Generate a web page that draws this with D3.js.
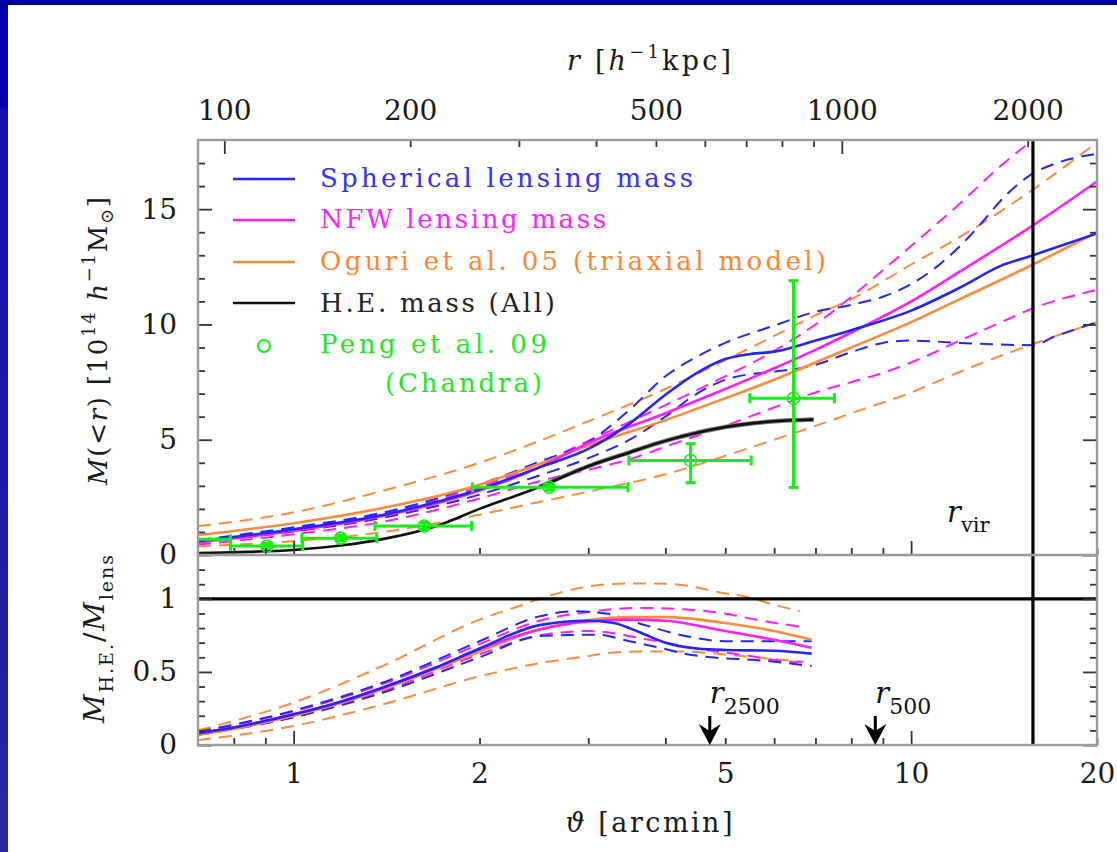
<!DOCTYPE html>
<html><head><meta charset="utf-8">
<script src="https://cdn.jsdelivr.net/npm/d3@7"></script>
<style>
body{margin:0;background:#fff;}
svg{display:block;font-family:"DejaVu Serif","Liberation Serif",serif;}
</style>
</head><body>
<script>
// ---------------- data ----------------
const thetaDomain = [0.7, 20];          // arcmin
const kpcPerArcmin = 129.5;             // h^-1 kpc per arcmin
const rVirTheta = 15.75, r2500Theta = 4.72, r500Theta = 8.75;

const thetaLabelTicks = [1, 2, 5, 10, 20];
const thetaMajorTicks = [1, 10];
const thetaMinorTicks = [0.8, 0.9, 2, 3, 4, 5, 6, 7, 8, 9, 20];
const rLabelTicks = [100, 200, 500, 1000, 2000];
const rMajorTicks = [100, 1000];
const rMinorTicks = [200, 300, 400, 500, 600, 700, 800, 900, 2000];
const massLabelTicks = [0, 5, 10, 15];
const massMinorTicks = [1,2,3,4,6,7,8,9,11,12,13,14,16,17];
const ratioLabelTicks = [0, 0.5, 1];
const ratioMinorTicks = [0.1,0.2,0.3,0.4,0.6,0.7,0.8,0.9,1.1,1.2];

// upper panel: M(<r) [1e14 h^-1 Msun] vs theta [arcmin]
const sphLensM  = [[0.7,0.6],[1,1.12],[1.4,1.75],[2,2.85],[2.5,3.8],[3,4.6],[3.5,5.7],[4,6.95],[4.5,7.9],[5,8.5],[5.5,8.72],[6,8.82],[7,9.3],[8,9.75],[10,10.6],[12,11.6],[14,12.55],[15.75,13.0],[20,13.95]];
const sphLensHi = [[0.7,0.65],[1,1.2],[1.4,1.85],[2,3.05],[2.5,4.05],[3,4.9],[3.5,6.3],[4,7.75],[4.5,8.6],[5,9.2],[6,9.95],[7,10.55],[8,10.85],[9,11.2],[10,11.75],[11,12.5],[12,13.4],[13,14.4],[14,15.4],[15.75,16.55],[17,16.95],[20,17.4]];
const sphLensLo = [[0.7,0.55],[1,1.02],[1.4,1.62],[2,2.62],[2.5,3.45],[3,4.2],[3.5,5.0],[4,6.0],[4.5,7.0],[5,7.6],[5.5,7.85],[6,7.95],[7,8.25],[8,8.8],[9,9.2],[10,9.3],[12,9.2],[15.75,9.1],[17,9.45],[20,10.1]];
const nfwM  = [[0.7,0.55],[1,1.05],[1.4,1.7],[2,2.8],[2.5,3.8],[3,4.85],[4,6.15],[5,7.2],[6,8.1],[7,8.9],[8,9.65],[10,11.0],[12,12.3],[15.75,14.3],[20,16.2]];
const nfwHi = [[0.7,0.62],[1,1.12],[1.4,1.8],[2,2.95],[2.5,3.95],[3,4.95],[4,6.5],[5,7.75],[6,8.85],[7,10.0],[8,11.2],[9,12.35],[10,13.4],[12,15.25],[14,16.9],[16.3,18.3]];
const nfwLo = [[0.7,0.45],[1,0.9],[1.4,1.45],[2,2.45],[2.5,3.2],[3,3.7],[3.5,4.15],[4,4.7],[5,5.6],[6,6.4],[7,7.05],[8,7.5],[9,7.9],[10,8.35],[12,9.3],[14,10.1],[15.75,10.7],[20,11.5]];
const triaxM  = [[0.7,0.87],[1,1.38],[1.4,2.05],[2,3.05],[2.5,3.95],[3,4.75],[4,5.85],[5,6.8],[6,7.6],[7,8.35],[8,9.0],[10,10.1],[12,11.1],[15.75,12.6],[20,14.0]];
const triaxHi = [[0.7,1.25],[1,1.85],[1.4,2.8],[2,4.0],[2.5,4.95],[3,5.8],[4,7.2],[5,8.45],[6,9.5],[7,10.4],[8,11.1],[10,12.6],[12,13.8],[15.75,15.85],[20,17.9]];
const triaxLo = [[0.7,0.38],[1,0.6],[1.4,1.0],[2,1.75],[2.5,2.3],[3,2.75],[4,3.5],[5,4.3],[6,5.0],[7,5.6],[8,6.15],[10,7.05],[12,7.95],[15.75,9.15],[20,10.1]];
const heMass = [[0.7,0.08],[0.8,0.12],[1,0.22],[1.2,0.42],[1.4,0.7],[1.7,1.25],[2,2.0],[2.5,2.95],[3,3.85],[3.5,4.45],[4,4.95],[4.5,5.3],[5,5.55],[6,5.8],[6.95,5.88]];

// Peng et al. 09 (Chandra)
const pengTheta   = [0.66, 0.905, 1.192, 1.627, 2.592, 4.394, 6.449];
const pengThetaLo = [0.55, 0.79, 1.031, 1.354, 1.948, 3.49, 5.48];
const pengThetaHi = [0.79, 1.034, 1.363, 1.942, 3.479, 5.508, 7.513];
const pengMass    = [0.68, 0.39, 0.73, 1.26, 2.94, 4.10, 6.80];
const pengMassLo  = [0.56, 0.27, 0.61, 1.11, 2.81, 3.14, 2.93];
const pengMassHi  = [0.80, 0.51, 0.85, 1.41, 3.07, 4.83, 11.9];

// lower panel: M_HE / M_lens
const ratioSph   = [[0.7,0.08],[0.8,0.12],[1,0.21],[1.2,0.3],[1.4,0.395],[1.7,0.53],[2,0.66],[2.5,0.82],[3,0.85],[3.3,0.835],[3.64,0.77],[4,0.7],[4.5,0.66],[5,0.65],[6,0.645],[6.9,0.625]];
const ratioSphHi = [[0.7,0.09],[1,0.235],[1.4,0.43],[2,0.71],[2.5,0.88],[2.85,0.915],[3.2,0.9],[3.64,0.83],[4.38,0.74],[5,0.71],[6,0.71],[6.9,0.71]];
const ratioSphLo = [[0.7,0.07],[1,0.19],[1.4,0.36],[2,0.6],[2.5,0.745],[3.1,0.755],[3.5,0.71],[3.93,0.664],[4.38,0.618],[4.9,0.595],[5.54,0.583],[6.9,0.54]];
const ratioNfw   = [[0.7,0.08],[0.8,0.12],[1,0.21],[1.2,0.3],[1.4,0.395],[1.7,0.53],[2,0.655],[2.5,0.79],[3,0.845],[3.5,0.858],[4,0.85],[5,0.78],[6,0.72],[6.9,0.665]];
const ratioNfwHi = [[0.7,0.09],[1,0.23],[1.4,0.42],[2,0.69],[2.5,0.85],[3,0.91],[3.64,0.938],[4.38,0.926],[5,0.9],[5.6,0.858],[6.6,0.81]];
const ratioNfwLo = [[0.7,0.07],[1,0.19],[1.4,0.37],[2,0.62],[2.5,0.75],[3,0.78],[3.77,0.72],[4.5,0.66],[5.27,0.62],[6.4,0.57],[6.7,0.565]];
const ratioTri   = [[0.7,0.07],[0.8,0.11],[1,0.2],[1.2,0.29],[1.4,0.385],[1.7,0.52],[2,0.64],[2.5,0.79],[3,0.855],[3.5,0.875],[4,0.875],[5,0.835],[6,0.78],[6.9,0.72]];
const ratioTriHi = [[0.7,0.1],[1,0.29],[1.4,0.545],[2,0.858],[2.35,0.96],[2.5,1.0],[3,1.085],[3.45,1.105],[3.87,1.105],[4.38,1.087],[4.95,1.04],[5.4,1.015],[6,0.96],[6.6,0.915]];
const ratioTriLo = [[0.7,0.034],[1,0.13],[1.4,0.28],[2,0.47],[2.5,0.56],[2.9,0.6],[3.3,0.633],[3.64,0.64],[4.2,0.64],[5,0.62],[5.6,0.6],[6.3,0.58],[6.7,0.57]];

const legendLabels = ["Spherical lensing mass", "NFW lensing mass", "Oguri et al. 05 (triaxial model)", "H.E. mass (All)", "Peng et al. 09", "(Chandra)"];

// ---------------- drawing ----------------
const W = 1117, H = 852;
const BLUE = "#2424ff", MAG = "#ff1eff", ORA = "#ff8a3c", GRN = "#14f014", FRAME = "#9a9a9a", TICK = "#333";
const FONT = '"DejaVu Serif","Liberation Serif",serif';
const X0 = 198, X1 = 1097, YT = 140, YM = 555, YB = 745;

const svg = d3.select("body").append("svg").attr("width", W).attr("height", H);
const defs = svg.append("defs");
const grad = defs.append("linearGradient").attr("id","sideg").attr("x1",0).attr("y1",0).attr("x2",0).attr("y2",1);
[[0,"#0000a8"],[0.125,"#0000a8"],[0.13,"#1410aa"],[0.8,"#2222a4"],[1,"#2a2aa0"]].forEach(s=>grad.append("stop").attr("offset",s[0]).attr("stop-color",s[1]));
defs.append("clipPath").attr("id","clipT").append("rect").attr("x",X0).attr("y",YT).attr("width",X1-X0).attr("height",YM-YT);
defs.append("clipPath").attr("id","clipB").append("rect").attr("x",X0).attr("y",YM).attr("width",X1-X0).attr("height",YB-YM);

svg.append("rect").attr("width",W).attr("height",H).attr("fill","#fff");
svg.append("rect").attr("x",0).attr("y",0).attr("width",W).attr("height",5).attr("fill","#0000a6");
svg.append("rect").attr("x",0).attr("y",0).attr("width",8).attr("height",H).attr("fill","url(#sideg)");

const xs = d3.scaleLog().domain(thetaDomain).range([X0, X1]);
const rs = d3.scaleLog().domain(thetaDomain.map(t => t * kpcPerArcmin)).range([X0, X1]);
const yTop = d3.scaleLinear().domain([0, 18]).range([YM, YT]);
const yBot = d3.scaleLinear().domain([0, 1.3]).range([YB, YM]);

// curves
function drawSet(clipId, yScale, series) {
  const g = svg.append("g").attr("clip-path", `url(#${clipId})`);
  const line = d3.line().x(d => xs(d[0])).y(d => yScale(d[1])).curve(d3.curveMonotoneX);
  series.forEach(s => {
    g.append("path").datum(s.data).attr("d", line).attr("fill","none")
      .attr("stroke", s.color).attr("stroke-width", s.w || (s.dash ? 2 : 2.6))
      .attr("stroke-dasharray", s.dash ? "13,8" : null);
  });
  return g;
}
drawSet("clipT", yTop, [
  {data: triaxHi, color: ORA, dash: true}, {data: triaxLo, color: ORA, dash: true},
  {data: nfwHi, color: MAG, dash: true}, {data: nfwLo, color: MAG, dash: true},
  {data: sphLensHi, color: BLUE, dash: true}, {data: sphLensLo, color: BLUE, dash: true},
  {data: triaxM, color: ORA}, {data: nfwM, color: MAG}, {data: sphLensM, color: BLUE},
  {data: heMass.filter(d => d[0] >= 2.4), color: "#777", w: 4.5},
  {data: heMass, color: "#111"}
]);
drawSet("clipB", yBot, [
  {data: ratioTriHi, color: ORA, dash: true}, {data: ratioTriLo, color: ORA, dash: true},
  {data: ratioNfwHi, color: MAG, dash: true}, {data: ratioNfwLo, color: MAG, dash: true},
  {data: ratioSphHi, color: BLUE, dash: true}, {data: ratioSphLo, color: BLUE, dash: true},
  {data: ratioTri, color: ORA}, {data: ratioNfw, color: MAG}, {data: ratioSph, color: BLUE}
]);

// Peng points
const gp = svg.append("g").attr("clip-path","url(#clipT)").attr("stroke", GRN).attr("stroke-width", 3).attr("fill","none");
pengTheta.forEach((t, i) => {
  const cx = xs(t), cy = yTop(pengMass[i]);
  const xl = xs(pengThetaLo[i]), xh = xs(pengThetaHi[i]);
  const yl = yTop(pengMassLo[i]), yh = yTop(pengMassHi[i]);
  gp.append("line").attr("x1",xl).attr("x2",xh).attr("y1",cy).attr("y2",cy);
  gp.append("line").attr("x1",xl).attr("x2",xl).attr("y1",cy-5).attr("y2",cy+5);
  gp.append("line").attr("x1",xh).attr("x2",xh).attr("y1",cy-5).attr("y2",cy+5);
  gp.append("line").attr("x1",cx).attr("x2",cx).attr("y1",yl).attr("y2",yh);
  gp.append("line").attr("x1",cx-5).attr("x2",cx+5).attr("y1",yl).attr("y2",yl);
  gp.append("line").attr("x1",cx-5).attr("x2",cx+5).attr("y1",yh).attr("y2",yh);
  gp.append("circle").attr("cx",cx).attr("cy",cy).attr("r",6).attr("stroke-width",1.6);
});

// reference lines
svg.append("line").attr("x1",X0).attr("x2",X1).attr("y1",yBot(1)).attr("y2",yBot(1)).attr("stroke","#000").attr("stroke-width",3.2);
svg.append("line").attr("x1",xs(rVirTheta)).attr("x2",xs(rVirTheta)).attr("y1",YT).attr("y2",YB).attr("stroke","#000").attr("stroke-width",3.2);

// axes
function styleAxis(g) {
  g.select(".domain").remove();
  g.selectAll(".tick line").attr("stroke", TICK).attr("stroke-width", 1.8);
  g.selectAll("text").attr("font-size", 28).attr("fill", "#1a1a1a").attr("font-family", FONT);
  return g;
}
function ticksOnly(axisFn, scale, vals, len, tr) {
  svg.append("g").attr("transform", tr).call(axisFn(scale).tickValues(vals).tickSizeInner(-len).tickSizeOuter(0).tickFormat("")).call(styleAxis);
}
// bottom x axis
ticksOnly(d3.axisBottom, xs, thetaMajorTicks, 14, `translate(0,${YB})`);
ticksOnly(d3.axisBottom, xs, thetaMinorTicks, 7, `translate(0,${YB})`);
svg.append("g").attr("transform", `translate(0,${YB})`).call(d3.axisBottom(xs).tickValues(thetaLabelTicks).tickSizeInner(0).tickSizeOuter(0).tickPadding(18).tickFormat(d3.format("d"))).call(styleAxis);
// ticks on panel divider
ticksOnly(d3.axisBottom, xs, thetaMajorTicks, 14, `translate(0,${YM})`);
ticksOnly(d3.axisBottom, xs, thetaMinorTicks, 7, `translate(0,${YM})`);
// top r axis
ticksOnly(d3.axisTop, rs, rMajorTicks, 14, `translate(0,${YT})`);
ticksOnly(d3.axisTop, rs, rMinorTicks, 7, `translate(0,${YT})`);
svg.append("g").attr("transform", `translate(0,${YT})`).call(d3.axisTop(rs).tickValues(rLabelTicks).tickSizeInner(0).tickSizeOuter(0).tickPadding(20).tickFormat(d3.format("d"))).call(styleAxis);
// left / right axes
ticksOnly(d3.axisLeft, yTop, massLabelTicks, 14, `translate(${X0},0)`);
ticksOnly(d3.axisLeft, yTop, massMinorTicks, 7, `translate(${X0},0)`);
ticksOnly(d3.axisRight, yTop, massLabelTicks, 14, `translate(${X1},0)`);
ticksOnly(d3.axisRight, yTop, massMinorTicks, 7, `translate(${X1},0)`);
svg.append("g").attr("transform", `translate(${X0},0)`).call(d3.axisLeft(yTop).tickValues(massLabelTicks).tickSizeInner(0).tickSizeOuter(0).tickPadding(21).tickFormat(d3.format("d"))).call(styleAxis);
ticksOnly(d3.axisLeft, yBot, ratioLabelTicks, 14, `translate(${X0},0)`);
ticksOnly(d3.axisLeft, yBot, ratioMinorTicks, 7, `translate(${X0},0)`);
ticksOnly(d3.axisRight, yBot, ratioLabelTicks, 14, `translate(${X1},0)`);
ticksOnly(d3.axisRight, yBot, ratioMinorTicks, 7, `translate(${X1},0)`);
svg.append("g").attr("transform", `translate(${X0},0)`).call(d3.axisLeft(yBot).tickValues(ratioLabelTicks).tickSizeInner(0).tickSizeOuter(0).tickPadding(21).tickFormat(d => d3.format("")(d))).call(styleAxis);

// frame
svg.append("rect").attr("x",X0).attr("y",YT).attr("width",X1-X0).attr("height",YB-YT).attr("fill","none").attr("stroke",FRAME).attr("stroke-width",2.4);
svg.append("line").attr("x1",X0).attr("x2",X1).attr("y1",YM).attr("y2",YM).attr("stroke",FRAME).attr("stroke-width",2.4);

// text helper
function rich(parent, parts, attrs) {
  const t = parent.append("text");
  Object.entries(attrs).forEach(([k, v]) => t.attr(k, v));
  parts.forEach(p => {
    const s = t.append("tspan").text(p.t);
    if (p.i) s.attr("font-style", "italic");
    if (p.fs) s.attr("font-size", p.fs);
    if (p.dy) s.attr("dy", p.dy);
  });
  return t;
}
// axis titles
rich(svg, [{t:"r",i:1},{t:" [",},{t:"h",i:1},{t:"−1",fs:18,dy:-12},{t:"kpc]",dy:12}],
  {x:649, y:70, "text-anchor":"middle", "font-size":27, fill:"#1a1a1a", textLength:164, lengthAdjust:"spacing"});
rich(svg, [{t:"ϑ",i:1},{t:" [arcmin]"}],
  {x:649, y:832, "text-anchor":"middle", "font-size":27, fill:"#1a1a1a", textLength:167, lengthAdjust:"spacing"});
rich(svg, [{t:"M",i:1},{t:"(<"},{t:"r",i:1},{t:") [10"},{t:"14",fs:18,dy:-12},{t:" "},{t:"h",i:1,dy:12},{t:"−1",fs:18,dy:-12},{t:"M",dy:12},{t:"⊙",fs:18,dy:6},{t:"]",dy:-6}],
  {transform:"translate(107,341) rotate(-90)", "text-anchor":"middle", "font-size":26, fill:"#1a1a1a", textLength:288, lengthAdjust:"spacing"});
rich(svg, [{t:"M",i:1},{t:"H.E.",fs:19,dy:9},{t:"/",dy:-9},{t:"M",i:1},{t:"lens",fs:19,dy:9}],
  {transform:"translate(104,639) rotate(-90)", "text-anchor":"middle", "font-size":28, fill:"#1a1a1a", textLength:168, lengthAdjust:"spacing"});

// legend
const legColors = [BLUE, MAG, ORA, "#111"];
const legTextColors = ["#3030ff", "#ff22ff", "#ff8530", "#222", "#1ee81e", "#1ee81e"];
const legLineY = [179, 220, 262, 303];
const legBase = [187, 228, 270, 312, 353, 392];
const legWidth = [373, 286, 506, 235, 227, 157];
const legX = [320, 320, 320, 320, 320, 385];
legLineY.forEach((y, i) => svg.append("line").attr("x1",233).attr("x2",295).attr("y1",y).attr("y2",y).attr("stroke",legColors[i]).attr("stroke-width",2.6));
svg.append("circle").attr("cx",264).attr("cy",346).attr("r",6).attr("fill","none").attr("stroke",GRN).attr("stroke-width",2);
legendLabels.forEach((lab, i) => {
  svg.append("text").attr("x",legX[i]).attr("y",legBase[i]).attr("font-size",26).attr("fill",legTextColors[i])
    .attr("textLength",legWidth[i]).attr("lengthAdjust","spacing").text(lab);
});

// annotations
rich(svg, [{t:"r",i:1},{t:"vir",fs:21,dy:10}], {x:947, y:522, "font-size":29, fill:"#111"});
function arrowAt(theta, sub) {
  const ax = xs(theta);
  rich(svg, [{t:"r",i:1},{t:sub,fs:22,dy:11}], {x:ax, y:703, "font-size":29, fill:"#111"});
  svg.append("line").attr("x1",ax).attr("x2",ax).attr("y1",716).attr("y2",736).attr("stroke","#000").attr("stroke-width",3);
  svg.append("path").attr("d",`M${ax-11},724 L${ax},745 L${ax+11},724 L${ax},731 Z`).attr("fill","#000");
}
arrowAt(r2500Theta, "2500");
arrowAt(r500Theta, "500");
</script>
</body></html>
